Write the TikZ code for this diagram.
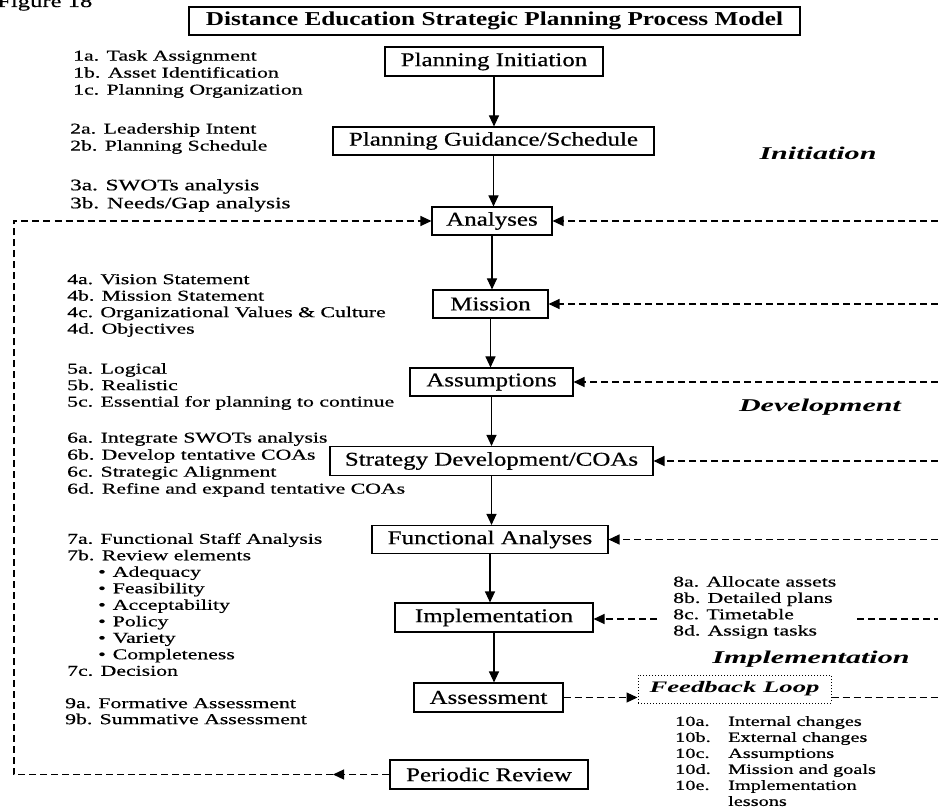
\documentclass[tikz,border=0pt]{standalone}
\usepackage{fontspec}
\setmainfont{Liberation Serif}
\newfontfamily\boxfont{Liberation Serif}[FakeStretch=1.28,FakeBold=0.6]
\newfontfamily\titlefont{Liberation Serif}[FakeStretch=1.28]
\newfontfamily\listfont{Liberation Serif}[FakeStretch=1.45,FakeBold=0.6]
\newfontfamily\phasefont{Liberation Serif}[FakeStretch=1.67]
\usetikzlibrary{arrows.meta}
\tikzset{
  procbox/.style={draw, line width=1.1pt, inner sep=0pt, font=\boxfont\fontsize{19.5}{23}\selectfont},
  fbbox/.style={draw, dotted, line width=1pt, inner sep=0pt, font=\phasefont\bfseries\itshape\fontsize{16}{18}\selectfont},
  lst/.style={anchor=north west, align=left, inner sep=0pt, font=\listfont\fontsize{15}{16.5}\selectfont},
  phase/.style={inner sep=0pt, font=\phasefont\bfseries\itshape\fontsize{18}{20}\selectfont},
  arr/.style={line width=1.1pt, -{Triangle[length=11pt,width=10pt]}},
  darr/.style={line width=1.2pt, dash pattern=on 7pt off 4pt, -{Triangle[length=11pt,width=10pt]}},
  dline/.style={line width=1.2pt, dash pattern=on 7pt off 4pt},
}
\begin{document}
\begin{tikzpicture}[x=1pt,y=-1pt]
\useasboundingbox (0,0) rectangle (938,810);
\node[anchor=base west, inner sep=0pt, font=\listfont\fontsize{17}{18}\selectfont] (fig) at (-3,7) {Figure 18};

% title
\node[procbox, line width=1.6pt, minimum width=611pt, minimum height=28pt,
      font=\titlefont\bfseries\fontsize{19.7}{23}\selectfont] (title) at (494.5,21)
      {Distance Education Strategic Planning Process Model};

% process boxes
\node[procbox, minimum width=218pt, minimum height=29pt] (pi) at (494,61.5) {Planning Initiation};
\node[procbox, minimum width=321pt, minimum height=28pt] (pg) at (493.5,141) {Planning Guidance/Schedule};
\node[procbox, minimum width=120pt, minimum height=28pt] (an) at (492,221) {Analyses};
\node[procbox, minimum width=115pt, minimum height=28pt] (mi) at (490.5,304) {Mission};
\node[procbox, minimum width=163pt, minimum height=28pt] (as) at (491.5,382) {Assumptions};
\node[procbox, minimum width=323pt, minimum height=29pt] (sd) at (491.5,461) {Strategy Development/COAs};
\node[procbox, minimum width=236pt, minimum height=28pt] (fa) at (490,539.5) {Functional Analyses};
\node[procbox, minimum width=198pt, minimum height=29pt] (im) at (494,617.5) {Implementation};
\node[procbox, minimum width=149pt, minimum height=29pt] (ae) at (488.5,697.5) {Assessment};
\node[procbox, minimum width=198pt, minimum height=29pt] (pr) at (489,774.5) {Periodic Review};
\node[fbbox, minimum width=193pt, minimum height=28pt] (fb) at (734.5,689) {Feedback Loop};

% phase labels
\node[phase] (ini) at (818,153) {Initiation};
\node[phase] (dev) at (820,407) {Development};
\node[phase] (imp) at (811,659) {Implementation};

% lists
\node[lst, font=\listfont\fontsize{15}{17}\selectfont] (l1) at (73,50)
  {1a.\enspace Task Assignment\\1b.\enspace Asset Identification\\1c.\enspace Planning Organization};
\node[lst, font=\listfont\fontsize{15}{17}\selectfont] (l2) at (70,123)
  {2a.\enspace Leadership Intent\\2b.\enspace Planning Schedule};
\node[lst, font=\listfont\fontsize{16}{18}\selectfont] (l3) at (70,179)
  {3a. SWOTs analysis\\3b. Needs/Gap analysis};
\node[lst] (l4) at (67,274)
  {4a. Vision Statement\\4b. Mission Statement\\4c. Organizational Values \& Culture\\4d. Objectives};
\node[lst] (l5) at (67,363)
  {5a.\enspace Logical\\5b. Realistic\\5c.\enspace Essential for planning to continue};
\node[lst, font=\listfont\fontsize{15}{17}\selectfont] (l6) at (67,432)
  {6a.\enspace Integrate SWOTs analysis\\6b. Develop tentative COAs\\6c.\enspace Strategic Alignment\\6d.\enspace Refine and expand tentative COAs};
\node[lst] (l7) at (67,533)
  {7a. Functional Staff Analysis\\7b.\enspace Review elements\\
   \hspace*{31pt}\textbullet\hspace{7pt}Adequacy\\
   \hspace*{31pt}\textbullet\hspace{7pt}Feasibility\\
   \hspace*{31pt}\textbullet\hspace{7pt}Acceptability\\
   \hspace*{31pt}\textbullet\hspace{7pt}Policy\\
   \hspace*{31pt}\textbullet\hspace{7pt}Variety\\
   \hspace*{31pt}\textbullet\hspace{7pt}Completeness\\
   7c.\enspace Decision};
\node[lst, font=\listfont\fontsize{15}{16}\selectfont] (l9) at (65,698)
  {9a. Formative Assessment\\9b. Summative Assessment};
\node[lst, font=\listfont\fontsize{15}{16.3}\selectfont] (l8) at (673,576)
  {8a. Allocate assets\\8b. Detailed plans\\8c. Timetable\\8d. Assign tasks};
\node[lst, font=\listfont\fontsize{14}{16}\selectfont] (l10) at (675,716)
  {\makebox[53pt][l]{10a.}Internal changes\\
   \makebox[53pt][l]{10b.}External changes\\
   \makebox[53pt][l]{10c.}Assumptions\\
   \makebox[53pt][l]{10d.}Mission and goals\\
   \makebox[53pt][l]{10e.}Implementation\\
   \hspace*{53pt}lessons};

% main flow
\draw[arr] (pi.south) -- (pi.south |- pg.north);
\draw[arr] (pg.south) -- (pg.south |- an.north);
\draw[arr] (an.south) -- (an.south |- mi.north);
\draw[arr] (mi.south) -- (mi.south |- as.north);
\draw[arr] (as.south) -- (as.south |- sd.north);
\draw[arr] (sd.south) -- (sd.south |- fa.north);
\draw[arr] (fa.south) -- (fa.south |- im.north);
\draw[arr] (im.south) -- (im.south |- ae.north);

% right-hand feedback inputs
\coordinate (R) at (938,0);
\draw[darr] (an.east -| R) -- (an.east);
\draw[darr] (mi.east -| R) -- (mi.east);
\draw[darr] (as.east -| R) -- (as.east);
\draw[darr] (sd.east -| R) -- (sd.east);
\draw[darr] (fa.east -| R) -- (fa.east);
\coordinate (c8l) at (657,619);
\coordinate (c8r) at (857,619);
\draw[darr] (c8l) -- (c8l -| im.east);
\draw[dline] (c8r) -- (c8r -| R);

% assessment -> feedback loop
\draw[darr] (ae.east) -- (ae.east -| fb.west);
\draw[dline] (ae.east -| fb.east) -- (ae.east -| R);

% periodic review loop back to analyses
\coordinate (pm) at (333,0);
\coordinate (LX) at (14,0);
\draw[darr] (pr.west) -- (pr.west -| pm);
\draw[darr] (pr.west -| pm) -- (pr.west -| LX) -- (an.west -| LX) -- (an.west);
\end{tikzpicture}
\end{document}
